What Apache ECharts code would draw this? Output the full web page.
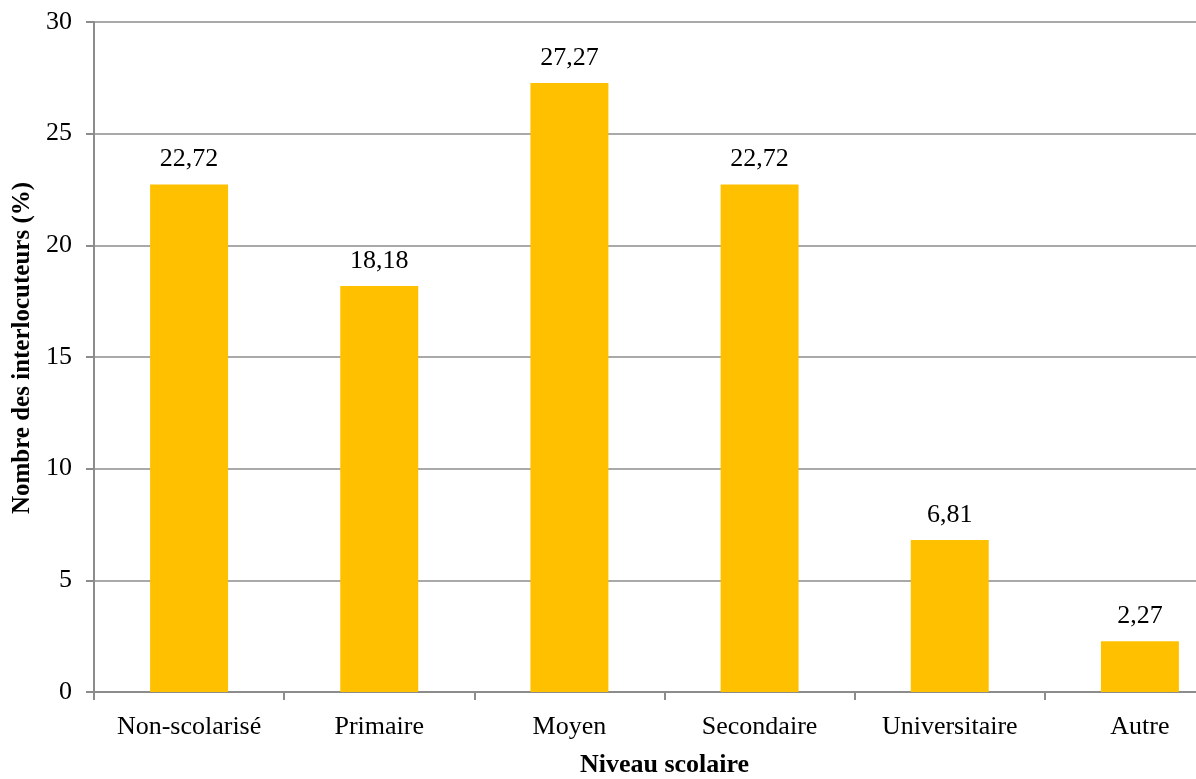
<!DOCTYPE html>
<html>
<head>
<meta charset="utf-8">
<script src="https://cdn.jsdelivr.net/npm/echarts@6/dist/echarts.min.js"></script>
<style>
  html, body { margin: 0; padding: 0; background: #fff; }
  #chart { width: 1196px; height: 779px; }
</style>
</head>
<body>
<div id="chart"></div>
<script>
// Niveau scolaire des interlocuteurs (%)
const categories = ['Non-scolarisé', 'Primaire', 'Moyen', 'Secondaire', 'Universitaire', 'Autre'];
const values = [22.72, 18.18, 27.27, 22.72, 6.81, 2.27];
const yTicks = { min: 0, max: 30, interval: 5 };

const FONT = '"Liberation Serif", "Times New Roman", serif';
const AXIS_GREY = '#8c8c8c';

const chart = echarts.init(document.getElementById('chart'));
chart.setOption({
  animation: false,
  grid: { left: 94, right: -39, top: 22, bottom: 87, containLabel: false, outerBoundsMode: 'none' },
  xAxis: {
    type: 'category',
    data: categories,
    name: 'Niveau scolaire',
    nameLocation: 'middle',
    nameGap: 60,
    nameTextStyle: { fontFamily: FONT, fontSize: 26, fontWeight: 'bold', color: '#000' },
    axisLine: { lineStyle: { color: AXIS_GREY, width: 2 } },
    axisTick: { show: true, length: 8, alignWithLabel: false, lineStyle: { color: AXIS_GREY, width: 2 } },
    axisLabel: { fontFamily: FONT, fontSize: 26, color: '#000', margin: 22 }
  },
  yAxis: {
    type: 'value',
    min: yTicks.min,
    max: yTicks.max,
    interval: yTicks.interval,
    name: 'Nombre des interlocuteurs (%)',
    nameLocation: 'middle',
    nameGap: 58,
    nameTextStyle: { fontFamily: FONT, fontSize: 25, fontWeight: 'bold', color: '#000', padding: [0, 0, 0, 18] },
    axisLine: { show: true, lineStyle: { color: AXIS_GREY, width: 2 } },
    axisTick: { show: true, length: 8, lineStyle: { color: AXIS_GREY, width: 2 } },
    axisLabel: { fontFamily: FONT, fontSize: 26, color: '#000', margin: 22 },
    splitLine: { lineStyle: { color: AXIS_GREY, width: 1.5 } }
  },
  series: [{
    type: 'bar',
    data: values,
    barWidth: '41%',
    itemStyle: { color: '#FFC000' },
    label: {
      show: true,
      position: 'top',
      distance: 12,
      fontFamily: FONT,
      fontSize: 26,
      color: '#000',
      formatter: p => p.value.toFixed(2).replace('.', ',')
    }
  }]
});
</script>
</body>
</html>
